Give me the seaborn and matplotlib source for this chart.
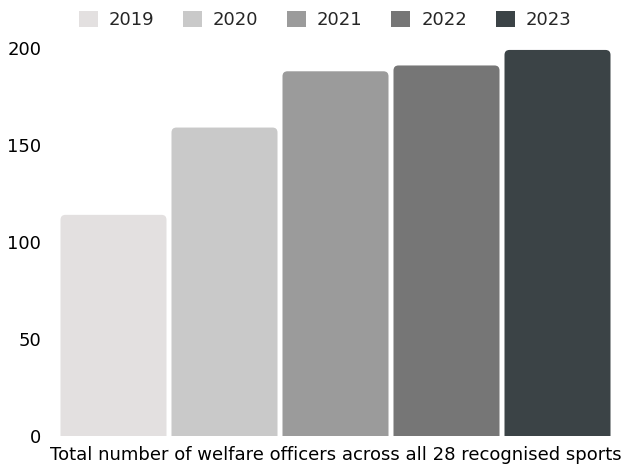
import matplotlib
matplotlib.use("Agg")
import matplotlib.pyplot as plt
import seaborn as sns
import pandas as pd
from matplotlib.patches import FancyBboxPatch, Patch

years = ["2019", "2020", "2021", "2022", "2023"]
officers = [114, 159, 188, 191, 199]
colors = ["#E3E0E0", "#C9C9C9", "#9B9B9B", "#767676", "#3B4346"]
yticks = [0, 50, 100, 150, 200]
xlabel = "Total number of welfare officers across all 28 recognised sports"

sns.set_theme(style="white")
plt.rcParams['font.family'] = ['DejaVu Sans']

df = pd.DataFrame({"year": years, "officers": officers})

fig = plt.figure(figsize=(6.22, 4.66), dpi=100)
ax = fig.add_axes([58/622, 1-436/466, (613-58)/622, (436-48)/466])

sns.barplot(data=df, x="year", y="officers", hue="year", palette=colors,
            width=0.955, ax=ax, legend=False, saturation=1)

ax.set_ylim(0, 200)
ax.set_xlim(-0.5, 4.5)

# convert bars to rounded-top bars
px_per_x = (613-58) / 5.0
px_per_y = (436-48) / 200.0
radius_px = 5
r_x = radius_px / px_per_x
aspect = px_per_x / px_per_y
for p in list(ax.patches):
    x, w, h = p.get_x(), p.get_width(), p.get_height()
    c = p.get_facecolor()
    p.set_visible(False)
    ext = 10
    fb = FancyBboxPatch((x, -ext), w, h + ext,
                        boxstyle=f"round,pad=0,rounding_size={r_x}",
                        mutation_aspect=aspect, facecolor=c, edgecolor="none")
    ax.add_patch(fb)

for s in ax.spines.values():
    s.set_visible(False)
ax.set_yticks(yticks)
ax.set_yticklabels([str(v) for v in yticks], fontsize=13, color="black")
ax.tick_params(axis="y", length=0, pad=12)
ax.set_xticks([])
ax.set_ylabel("")
ax.set_xlabel(xlabel, fontsize=13, color="black", labelpad=7)

handles = [Patch(facecolor=c, edgecolor="none") for c in colors]
fig.legend(handles, years, loc="center", bbox_to_anchor=(325/622, 1-20/466),
           ncol=5, frameon=False, fontsize=13, handlelength=1.05, handleheight=1.05,
           handletextpad=0.6, columnspacing=1.6, borderaxespad=0)

fig.savefig("out.png", dpi=100)
